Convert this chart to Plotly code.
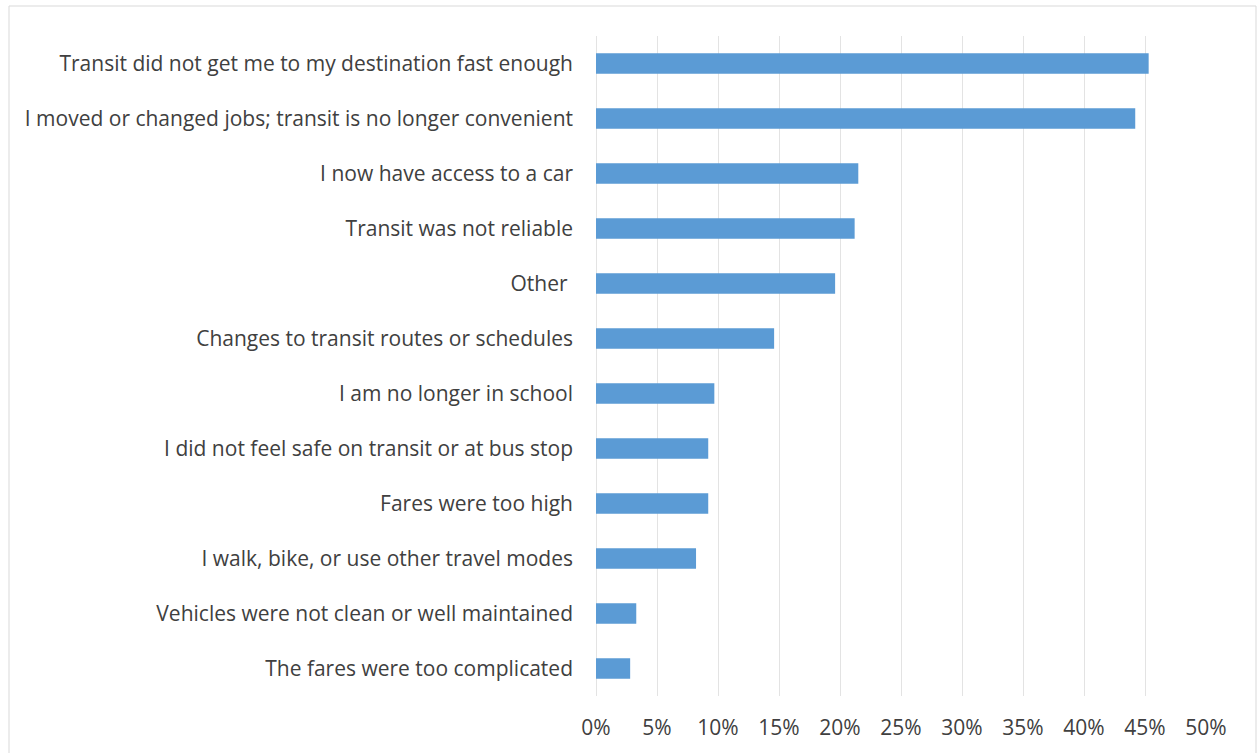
import plotly.graph_objects as go

categories = [
    "Transit did not get me to my destination fast enough",
    "I moved or changed jobs; transit is no longer convenient",
    "I now have access to a car",
    "Transit was not reliable",
    "Other ",
    "Changes to transit routes or schedules",
    "I am no longer in school",
    "I did not feel safe on transit or at bus stop",
    "Fares were too high",
    "I walk, bike, or use other travel modes",
    "Vehicles were not clean or well maintained",
    "The fares were too complicated",
]
shares = [45.3, 44.2, 21.5, 21.2, 19.6, 14.6, 9.7, 9.2, 9.2, 8.2, 3.3, 2.8]
tick_values = [0, 5, 10, 15, 20, 25, 30, 35, 40, 45, 50]
tick_labels = [f"{v}%" for v in tick_values]

W, H = 1259, 753
L, R, T, B = 596, 53, 36, 57

fig = go.Figure(
    go.Bar(
        x=shares,
        y=categories,
        orientation="h",
        marker=dict(color="#5B9BD5", line=dict(width=0)),
        hoverinfo="x+y",
    )
)

pw = W - L - R
ph = H - T - B

fig.update_layout(
    width=W,
    height=H,
    margin=dict(l=L, r=R, t=T, b=B, autoexpand=False),
    paper_bgcolor="white",
    plot_bgcolor="white",
    bargap=0.63,
    showlegend=False,
    font=dict(family="'Open Sans', sans-serif", size=21, color="#404040"),
    xaxis=dict(
        range=[0, 50],
        tickvals=tick_values,
        ticktext=tick_labels,
        showgrid=True,
        gridcolor="#E3E3E3",
        gridwidth=1,
        zeroline=True,
        zerolinecolor="#E3E3E3",
        zerolinewidth=1,
        showline=False,
        ticks="",
        ticklabelstandoff=17,
        tickfont=dict(size=21, color="#404040"),
        fixedrange=True,
    ),
    yaxis=dict(
        categoryorder="array",
        categoryarray=categories[::-1],
        showgrid=False,
        zeroline=False,
        showline=False,
        ticks="",
        ticklabelstandoff=22,
        tickfont=dict(size=21, color="#404040"),
        fixedrange=True,
    ),
    shapes=[
        dict(
            type="rect",
            xref="paper",
            yref="paper",
            x0=(9 - L) / pw,
            x1=(1256 - L) / pw,
            y0=-(760 - (H - B)) / ph,
            y1=1 + (T - 6) / ph,
            line=dict(color="#D9D9D9", width=1),
            fillcolor="rgba(0,0,0,0)",
            layer="below",
        )
    ],
)

fig.write_html("out.html")
